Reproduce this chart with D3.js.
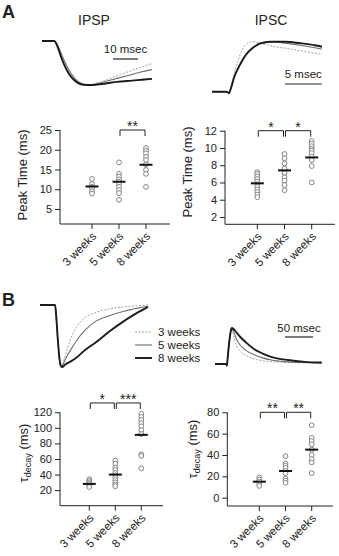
<!DOCTYPE html>
<html><head><meta charset="utf-8">
<script src="https://cdn.jsdelivr.net/npm/d3@7"></script>
<style>
html,body{margin:0;padding:0;background:#fff;}
svg{display:block;font-family:"Liberation Sans",Arial,sans-serif;}
</style></head>
<body>
<svg id="chart" width="339" height="556"></svg>
<script>
// ---------- data ----------
const categories = ["3 weeks", "5 weeks", "8 weeks"];
const legendLabels = ["3 weeks", "5 weeks", "8 weeks"];

// Panel A, peak time IPSP (ms)
const ipspPeak3 = [12.6, 11.3, 10.6, 10.3, 9.5, 8.9];
const ipspPeak5 = [16.8, 13.9, 13.2, 12.5, 11.9, 11.3, 10.6, 9.8, 9.0, 7.3];
const ipspPeak8 = [20.4, 19.7, 19.1, 18.2, 17.4, 16.3, 14.9, 13.9, 10.6];
const ipspPeakMeans = [10.7, 11.9, 16.2];
const ipspPeakTicks = [5, 10, 15, 20, 25];

// Panel A, peak time IPSC (ms)
const ipscPeak3 = [7.2, 7.0, 6.7, 6.4, 6.1, 5.8, 5.5, 5.2, 4.9, 4.6, 4.3];
const ipscPeak5 = [9.3, 8.8, 8.2, 7.6, 7.1, 6.6, 6.2, 5.7, 5.1];
const ipscPeak8 = [10.8, 10.5, 10.2, 9.9, 9.7, 9.4, 9.0, 8.6, 7.9, 6.0];
const ipscPeakMeans = [5.9, 7.4, 8.9];
const ipscPeakTicks = [2, 4, 6, 8, 10, 12];

// Panel B, tau decay IPSP (ms)
const ipspTau3 = [34, 32, 30, 28, 26, 24];
const ipspTau5 = [58, 54, 49, 46, 42, 39, 36, 33, 30, 27, 25];
const ipspTau8 = [118, 114, 110, 106, 102, 97, 92, 66, 64, 48];
const ipspTauMeans = [28, 40, 91];
const ipspTauTicks = [20, 40, 60, 80, 100, 120];

// Panel B, tau decay IPSC (ms)
const ipscTau3 = [19, 17, 15, 13, 11];
const ipscTau5 = [39, 32, 30, 28, 25, 23, 18, 16, 14];
const ipscTau8 = [68, 56, 53, 50, 45, 40, 36, 33, 23];
const ipscTauMeans = [15, 25, 45];
const ipscTauTicks = [0, 20, 40, 60, 80];

// significance brackets: [fromIndex, toIndex, label, level(data units)]
const ipspPeakSig = [[1, 2, "**", 25]];
const ipscPeakSig = [[0, 1, "*", 12], [1, 2, "*", 12]];
const ipspTauSig = [[0, 1, "*", 132], [1, 2, "***", 132]];
const ipscTauSig = [[0, 1, "**", 80], [1, 2, "**", 80]];

// example traces (time ms, normalised amplitude)
const ipspA_t   = [0, 5, 6, 8, 10, 12, 14, 16, 18, 20, 22, 26, 30, 36, 40, 44];
const ipspA_w3  = [0, 0, -0.1, -0.42, -0.67, -0.84, -0.94, -0.99, -1.0, -0.99, -0.96, -0.88, -0.79, -0.67, -0.59, -0.51];
const ipspA_w5  = [0, 0, -0.07, -0.33, -0.58, -0.77, -0.9, -0.97, -1.0, -0.99, -0.97, -0.91, -0.85, -0.76, -0.7, -0.65];
const ipspA_w8  = [0, 0, -0.1, -0.42, -0.67, -0.84, -0.94, -0.99, -1.0, -1.0, -0.99, -0.96, -0.93, -0.9, -0.88, -0.86];

const ipscA_t   = [0, 2, 2.3, 2.6, 3, 3.5, 4, 4.5, 5, 5.5, 6, 6.5, 7, 8, 9, 10, 12, 14, 15];
const ipscA_w3  = [0, 0, -0.03, 0.1, 0.35, 0.6, 0.8, 0.92, 0.98, 1.0, 0.99, 0.97, 0.95, 0.92, 0.89, 0.87, 0.82, 0.77, 0.75];
const ipscA_w5  = [0, 0, -0.03, 0.08, 0.28, 0.45, 0.6, 0.72, 0.81, 0.88, 0.93, 0.97, 0.99, 1.0, 0.99, 0.97, 0.93, 0.88, 0.85];
const ipscA_w8  = [0, 0, -0.03, 0.08, 0.28, 0.45, 0.59, 0.71, 0.8, 0.87, 0.92, 0.96, 0.98, 1.0, 1.0, 1.0, 0.97, 0.93, 0.9];

const ipspB_t   = [0, 27, 29, 32, 35, 38, 40, 45, 55, 65, 80, 100, 125, 150, 175, 193];
const ipspB_w3  = [0, 0, -0.2, -0.6, -0.9, -1.0, -0.96, -0.82, -0.54, -0.36, -0.21, -0.12, -0.06, -0.03, -0.01, 0];
const ipspB_w5  = [0, 0, -0.2, -0.6, -0.9, -1.0, -0.98, -0.88, -0.72, -0.58, -0.41, -0.26, -0.17, -0.1, -0.05, -0.02];
const ipspB_w8  = [0, 0, -0.18, -0.57, -0.88, -0.99, -1.0, -0.96, -0.91, -0.85, -0.73, -0.6, -0.42, -0.26, -0.12, -0.03];

const ipscB_t   = [0, 20, 21, 23, 26, 29, 30, 33, 38, 45, 55, 70, 85, 100, 130, 160, 190];
const ipscB_w3  = [0, 0, -0.05, 0.25, 0.7, 0.97, 1.0, 0.8, 0.52, 0.36, 0.24, 0.14, 0.09, 0.06, 0.04, 0.03, 0.02];
const ipscB_w5  = [0, 0, -0.05, 0.25, 0.7, 0.97, 1.0, 0.9, 0.7, 0.52, 0.38, 0.26, 0.17, 0.11, 0.06, 0.04, 0.03];
const ipscB_w8  = [0, 0, -0.05, 0.25, 0.7, 0.97, 1.0, 0.97, 0.88, 0.75, 0.6, 0.41, 0.29, 0.2, 0.11, 0.06, 0.04];

// ---------- drawing ----------
const svg = d3.select("#chart");
const FONT = '"Liberation Sans",Arial,sans-serif';
const ink = "#222";

const styles = [
  {stroke: "#9a9a9a", width: 0.9, dash: "2,1.5"},
  {stroke: "#6e6e6e", width: 1.1, dash: null},
  {stroke: "#1c1c1c", width: 1.9, dash: null}
];

function drawTraces(t, series, xDom, xRange, yDom, yRange) {
  const x = d3.scaleLinear().domain(xDom).range(xRange);
  const y = d3.scaleLinear().domain(yDom).range(yRange);
  const line = d3.line().x(d => x(d[0])).y(d => y(d[1])).curve(d3.curveMonotoneX);
  series.forEach((s, i) => {
    svg.append("path")
      .datum(t.map((tt, k) => [tt, s[k]]))
      .attr("d", line)
      .attr("fill", "none")
      .attr("stroke", styles[i].stroke)
      .attr("stroke-width", styles[i].width)
      .attr("stroke-dasharray", styles[i].dash)
      .attr("stroke-linejoin", "round");
  });
  return x;
}

function scaleBar(x, ms, x0, yBar, label, yText) {
  const len = x(ms) - x(0);
  svg.append("line").attr("x1", x0).attr("x2", x0 + len).attr("y1", yBar).attr("y2", yBar)
    .attr("stroke", ink).attr("stroke-width", 1.2);
  svg.append("text").attr("x", x0 + len / 2).attr("y", yText).attr("text-anchor", "middle")
    .attr("font-size", 11.5).attr("fill", ink).text(label);
}

function drawScatter(opt) {
  const g = svg.append("g");
  const x = d3.scalePoint().domain(categories).range(opt.xRange);
  const y = d3.scaleLinear().domain(opt.yDom).range(opt.yRange);
  // y axis
  const ax = g.append("g").attr("transform", `translate(${opt.axisX},0)`)
    .call(d3.axisLeft(y).tickValues(opt.ticks).tickSize(5).tickSizeOuter(0).tickPadding(3));
  ax.select(".domain").remove();
  ax.selectAll("line").attr("stroke", ink);
  ax.selectAll("text").attr("font-size", 11).attr("font-family", FONT).attr("fill", ink);
  g.append("line").attr("x1", opt.axisX).attr("x2", opt.axisX)
    .attr("y1", y(opt.yDom[1])).attr("y2", opt.yRange[0]).attr("stroke", ink);
  // x axis
  g.append("line").attr("x1", opt.axisX).attr("x2", opt.axisEnd)
    .attr("y1", opt.yRange[0]).attr("y2", opt.yRange[0]).attr("stroke", ink);
  categories.forEach(c => {
    g.append("line").attr("x1", x(c)).attr("x2", x(c))
      .attr("y1", opt.yRange[0]).attr("y2", opt.yRange[0] + 5).attr("stroke", ink);
    g.append("text")
      .attr("transform", `translate(${x(c) + 5},${opt.yRange[0] + 13}) rotate(-45)`)
      .attr("text-anchor", "end").attr("font-size", 11.5).attr("fill", ink).text(c);
  });
  // points
  opt.groups.forEach((vals, i) => {
    g.selectAll(null).data(vals).enter().append("circle")
      .attr("cx", x(categories[i])).attr("cy", d => y(d)).attr("r", 2.4)
      .attr("fill", "#fff").attr("stroke", "#777").attr("stroke-width", 0.9);
  });
  // means
  opt.means.forEach((m, i) => {
    g.append("line").attr("x1", x(categories[i]) - 6.5).attr("x2", x(categories[i]) + 6.5)
      .attr("y1", y(m)).attr("y2", y(m)).attr("stroke", "#111").attr("stroke-width", 2);
  });
  // significance
  opt.sig.forEach(([a, b, lab, lev]) => {
    const x1 = x(categories[a]) + 1, x2 = x(categories[b]) - 1, yy = y(lev);
    g.append("path").attr("d", `M${x1},${yy + 6}V${yy}H${x2}V${yy + 6}`)
      .attr("fill", "none").attr("stroke", ink).attr("stroke-width", 1);
    g.append("text").attr("x", (x1 + x2) / 2).attr("y", yy + 1).attr("text-anchor", "middle")
      .attr("font-size", 14).attr("fill", ink).text(lab);
  });
  // y label
  const lbl = g.append("text")
    .attr("transform", `translate(${opt.labelX},${opt.labelY}) rotate(-90)`)
    .attr("text-anchor", "middle").attr("font-size", 13).attr("fill", ink);
  if (opt.tau) {
    lbl.append("tspan").text("τ");
    lbl.append("tspan").attr("font-size", 9).attr("dy", 3).text("decay");
    lbl.append("tspan").attr("dy", -3).text(" (ms)");
  } else {
    lbl.text(opt.label);
  }
}

// panel letters and titles
svg.append("text").attr("x", 2).attr("y", 18).attr("font-size", 18).attr("font-weight", "bold").attr("fill", ink).text("A");
svg.append("text").attr("x", 2).attr("y", 306).attr("font-size", 18).attr("font-weight", "bold").attr("fill", ink).text("B");
svg.append("text").attr("x", 94).attr("y", 25).attr("text-anchor", "middle").attr("font-size", 14).attr("fill", ink).text("IPSP");
svg.append("text").attr("x", 271).attr("y", 25).attr("text-anchor", "middle").attr("font-size", 14).attr("fill", ink).text("IPSC");

// traces A
const xA1 = drawTraces(ipspA_t, [ipspA_w3, ipspA_w5, ipspA_w8], [0, 44], [42, 152], [-1, 0], [85, 41]);
scaleBar(xA1, 10, 113, 59, "10 msec", 53);
const xA2 = drawTraces(ipscA_t, [ipscA_w3, ipscA_w5, ipscA_w8], [0, 15], [212, 322], [0, 1], [91.7, 41.7]);
scaleBar(xA2, 5, 285, 84, "5 msec", 78);

// traces B
drawTraces(ipspB_t, [ipspB_w3, ipspB_w5, ipspB_w8], [0, 193], [40, 148], [-1, 0], [367, 305]);
const xB2 = drawTraces(ipscB_t, [ipscB_w3, ipscB_w5, ipscB_w8], [0, 190], [215, 321.7], [0, 1], [364, 328]);
scaleBar(xB2, 50, 285, 337, "50 msec", 332);

// legend
const legY = [332, 345, 358];
legendLabels.forEach((lab, i) => {
  svg.append("line").attr("x1", 135).attr("x2", 152).attr("y1", legY[i]).attr("y2", legY[i])
    .attr("stroke", styles[i].stroke).attr("stroke-width", styles[i].width).attr("stroke-dasharray", styles[i].dash);
  svg.append("text").attr("x", 158).attr("y", legY[i] + 4).attr("font-size", 11.5).attr("fill", ink).text(lab);
});

// scatter panels
drawScatter({groups: [ipspPeak3, ipspPeak5, ipspPeak8], means: ipspPeakMeans, ticks: ipspPeakTicks,
  yDom: [1.2, 25], yRange: [224, 130], xRange: [92, 146], axisX: 60, axisEnd: 170,
  sig: ipspPeakSig, label: "Peak Time (ms)", labelX: 27, labelY: 175});
drawScatter({groups: [ipscPeak3, ipscPeak5, ipscPeak8], means: ipscPeakMeans, ticks: ipscPeakTicks,
  yDom: [1.15, 12], yRange: [224.3, 130.7], xRange: [257.3, 311.7], axisX: 225, axisEnd: 335,
  sig: ipscPeakSig, label: "Peak Time (ms)", labelX: 192, labelY: 172});
drawScatter({groups: [ipspTau3, ipspTau5, ipspTau8], means: ipspTauMeans, ticks: ipspTauTicks,
  yDom: [0, 120], yRange: [505.7, 412.3], xRange: [89.3, 141.3], axisX: 60, axisEnd: 163,
  sig: ipspTauSig, tau: true, labelX: 28, labelY: 453});
drawScatter({groups: [ipscTau3, ipscTau5, ipscTau8], means: ipscTauMeans, ticks: ipscTauTicks,
  yDom: [-7.8, 80], yRange: [506, 412.3], xRange: [259.3, 311.7], axisX: 227.3, axisEnd: 333,
  sig: ipscTauSig, tau: true, labelX: 197, labelY: 449});
</script>
</body></html>
